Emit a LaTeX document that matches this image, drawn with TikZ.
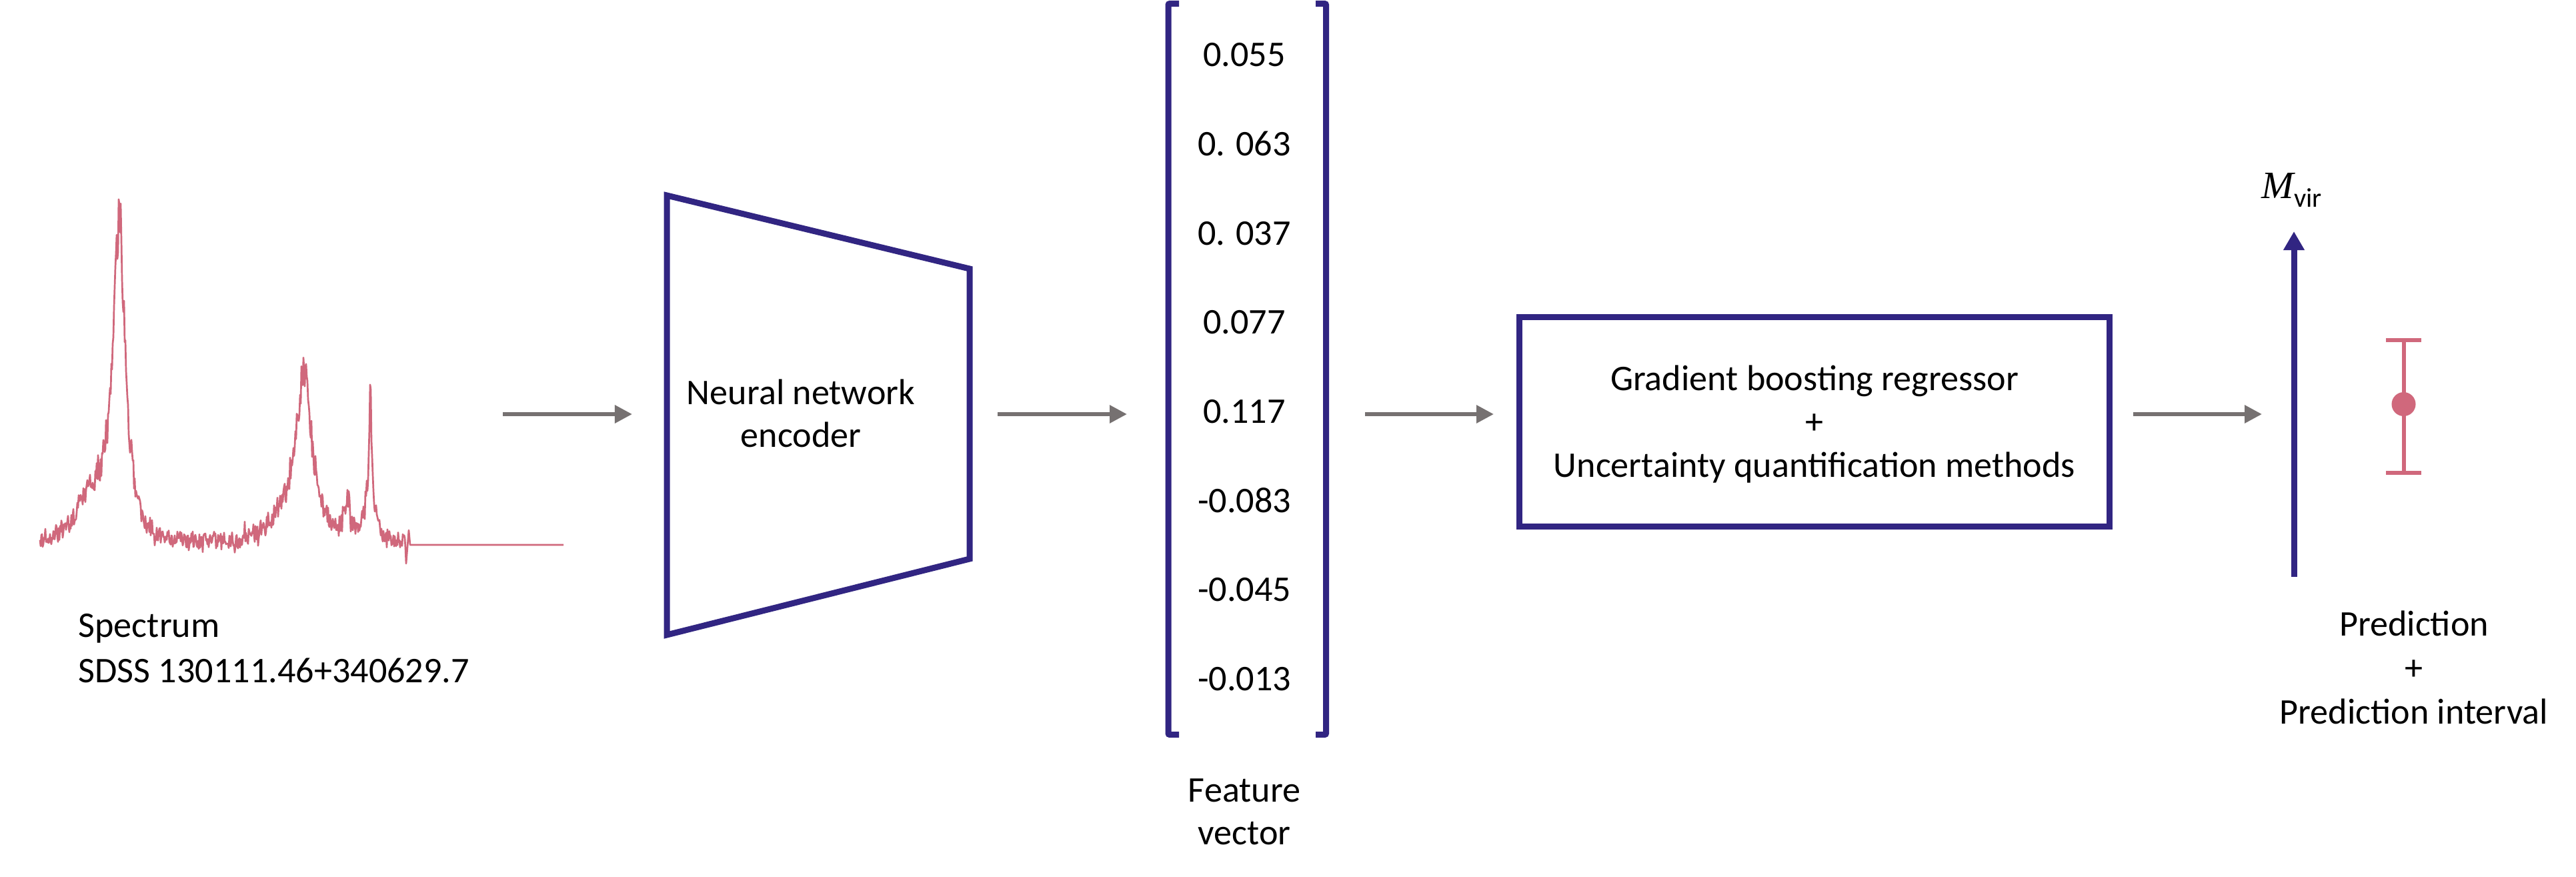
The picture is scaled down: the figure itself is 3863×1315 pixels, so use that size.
\documentclass[tikz,border=0pt]{standalone}
\usepackage{fontspec}
\setmainfont{Carlito}
\newfontfamily\serifmfont{Liberation Serif}
\usetikzlibrary{arrows.meta}
\definecolor{navy}{RGB}{49,37,130}
\definecolor{specpink}{RGB}{208,104,124}
\definecolor{arrowgray}{RGB}{118,113,113}
\begin{document}
\begin{tikzpicture}[x=0.01cm,y=-0.01cm,
  lbl/.style={font=\fontsize{15.4}{18.5}\selectfont, inner sep=0, anchor=base},
  lblw/.style={lbl, anchor=base west},
  flow/.style={draw=arrowgray, line width=0.06cm, -{Triangle[length=0.26cm,width=0.26cm]}},
  blueline/.style={draw=navy, line width=0.09cm},
  spec/.style={draw=specpink, line width=0.027cm, line join=round},
  errbar/.style={draw=specpink, line width=0.06cm},
  declare function={
    lor(\pa,\pb,\pc)=1/(1+(min(abs(\pa-\pb)/\pc,100))^2);
    gss(\pa,\pb,\pc)=exp(-((min(abs(\pa-\pb)/\pc,4))^2));
    sig(\qa)=450*lor(\qa,179,10)+70*gss(\qa,150,45)+225*lor(\qa,456,13)+40*gss(\qa,440,45)+95*lor(\qa,555,7)+150*lor(\qa,555.5,1.5)+55*lor(\qa,521,5);
  }]
\pgfmathsetseed{12}
\fill[white] (0,0) rectangle (3863,1315);
\useasboundingbox (0,0) rectangle (3863,1315);

% ---- spectrum ----
\draw[spec] plot[domain=60:608, samples=549, variable=\x]
  (\x, {815 - sig(\x) + (12 + 0.07*sig(\x))*rand + 22*rand*rand*rand})
  -- (609,845) -- (613,795) -- (615,817) -- (845,817);
\node[lblw] (spl1) at (117,955) {Spectrum};
\node[lblw] (spl2) at (117,1023) {SDSS 130111.46+340629.7};

% ---- encoder ----
\draw[blueline, line join=miter] (1000,293) -- (1454,403) -- (1454,838) -- (1000,952) -- cycle;
\node[lbl] (enc1) at (1201,606) {Neural network};
\node[lbl] (enc2) at (1201,670) {encoder};

% ---- feature vector ----
\draw[blueline, rounded corners=0.02cm] (1768,5.5) -- (1752,5.5) -- (1752,1101.5) -- (1768,1101.5);
\draw[blueline, rounded corners=0.02cm] (1973,5.5) -- (1988.5,5.5) -- (1988.5,1101.5) -- (1973,1101.5);
\node[lbl] (v1) at (1866,100) {0.055};
\node[lbl] (v2) at (1866,233.6) {0. 063};
\node[lbl] (v3) at (1866,367.2) {0. 037};
\node[lbl] (v4) at (1866,500.8) {0.077};
\node[lbl] (v5) at (1866,634.4) {0.117};
\node[lbl] (v6) at (1866,768) {-0.083};
\node[lbl] (v7) at (1866,901.6) {-0.045};
\node[lbl] (v8) at (1866,1035.2) {-0.013};
\node[lbl] (fv1) at (1866,1202) {Feature};
\node[lbl] (fv2) at (1866,1266) {vector};

% ---- regressor box ----
\node[blueline, draw, inner sep=0, minimum width=8.845cm, minimum height=3.14cm] (gbr) at (2720.75,632.5) {};
\node[lbl] (g1) at (2721,585) {Gradient boosting regressor};
\node[lbl] (g2) at (2721,650) {+};
\node[lbl] (g3) at (2721,715) {Uncertainty quantification methods};

% ---- output axis ----
\coordinate (axb) at (3440,865);
\coordinate (axt) at (3440,347);
\draw[navy, line width=0.09cm, -{Triangle[length=0.28cm,width=0.30cm]}] (axb) -- (axt);
\node[anchor=base west, inner sep=0] (mvir) at (3391,297)
  {{\serifmfont\itshape\fontsize{16.5}{18}\selectfont M}{\fontsize{11.5}{13}\selectfont\raisebox{-0.13cm}{vir}}};

% ---- error bar ----
\coordinate (ebt) at (3604.5,510);
\coordinate (ebb) at (3604.5,709);
\draw[errbar] (ebt) -- (ebb);
\draw[errbar] (3578,510) -- (3631,510);
\draw[errbar] (3578,709) -- (3631,709);
\fill[specpink] (3604.5,606) circle (0.18cm);
\node[lbl] (p1) at (3620,953) {Prediction};
\node[lbl] (p2) at (3620,1019) {+};
\node[lbl] (p3) at (3620,1085) {Prediction interval};

% ---- flow arrows ----
\coordinate (a1s) at (754,621);  \coordinate (a1e) at (948,621);
\coordinate (a2s) at (1496,621); \coordinate (a2e) at (1690,621);
\coordinate (a3s) at (2047,621); \coordinate (a3e) at (2240,621);
\coordinate (a4s) at (3199,621); \coordinate (a4e) at (3392,621);
\draw[flow] (a1s) -- (a1e);
\draw[flow] (a2s) -- (a2e);
\draw[flow] (a3s) -- (a3e);
\draw[flow] (a4s) -- (a4e);
\end{tikzpicture}
\end{document}
